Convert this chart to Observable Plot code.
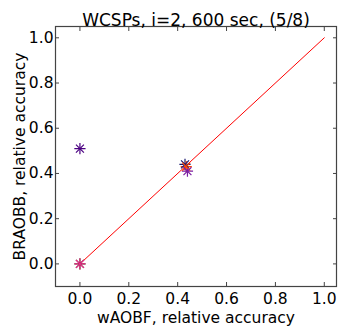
<!DOCTYPE html>
<html><head><meta charset="utf-8">
<script src="https://cdn.jsdelivr.net/npm/d3@7"></script>
<script src="https://cdn.jsdelivr.net/npm/@observablehq/plot@0.6"></script>
<style>body{margin:0;background:#fff}</style>
</head><body><div id="chart"></div>
<script>
const titleText = "WCSPs, i=2, 600 sec, (5/8)";
const xLabel = "wAOBF, relative accuracy";
const yLabel = "BRAOBB, relative accuracy";
const xVals = [0.0, 0.0, 0.0, 0.43, 0.435, 0.44];
const yVals = [0.0, 0.0, 0.51, 0.44, 0.43, 0.41];
const colors = ["#008000", "#ff1493", "#4b0082", "#191970", "#ff4500", "#7b1fa2"];
const ticks = [0, 0.2, 0.4, 0.6, 0.8, 1.0];
const diag = [0, 1];

const pts = xVals.map((x, i) => ({x, y: yVals[i], c: colors[i]}));
const font = "DejaVu Sans, sans-serif";
const fmt = d3.format(".1f");

const chart = Plot.plot({
  width: 339, height: 331,
  marginLeft: 55, marginRight: 3, marginTop: 26, marginBottom: 45,
  style: {fontFamily: font, fontSize: "15.5px", background: "#fff", color: "#000"},
  x: {domain: [-0.1, 1.05]},
  y: {domain: [-0.1, 1.05]},
  marks: [
    Plot.line(diag, {x: d => d, y: d => d, stroke: "red", strokeWidth: 1}),
    Plot.dot(pts, {x: "x", y: "y", stroke: "c", symbol: "plus", r: 3.7, strokeWidth: 1.2}),
    Plot.dot(pts, {x: "x", y: "y", stroke: "c", symbol: "times", r: 3.7, strokeWidth: 1.2}),
    Plot.axisX(ticks, {anchor: "bottom", tickSize: -4, tickPadding: 10, tickFormat: fmt, fontSize: 15.5, label: xLabel, labelAnchor: "center", labelArrow: "none", labelOffset: 36, stroke: "#444"}),
    Plot.axisX(ticks, {anchor: "top", tickSize: -4, tickFormat: null, text: null, label: null, stroke: "#444"}),
    Plot.axisY(ticks, {anchor: "left", tickSize: -4, tickPadding: 6, tickFormat: fmt, fontSize: 15.5, label: yLabel, labelAnchor: "center", labelArrow: "none", labelOffset: 42, stroke: "#444"}),
    Plot.axisY(ticks, {anchor: "right", tickSize: -4, tickFormat: null, text: null, label: null, stroke: "#444"}),
    Plot.frame({stroke: "#444", strokeWidth: 1.2}),
    Plot.text([titleText], {frameAnchor: "top", dy: -13, fontSize: 17, fill: "#000"})
  ]
});
document.getElementById("chart").appendChild(chart);
</script></body></html>
